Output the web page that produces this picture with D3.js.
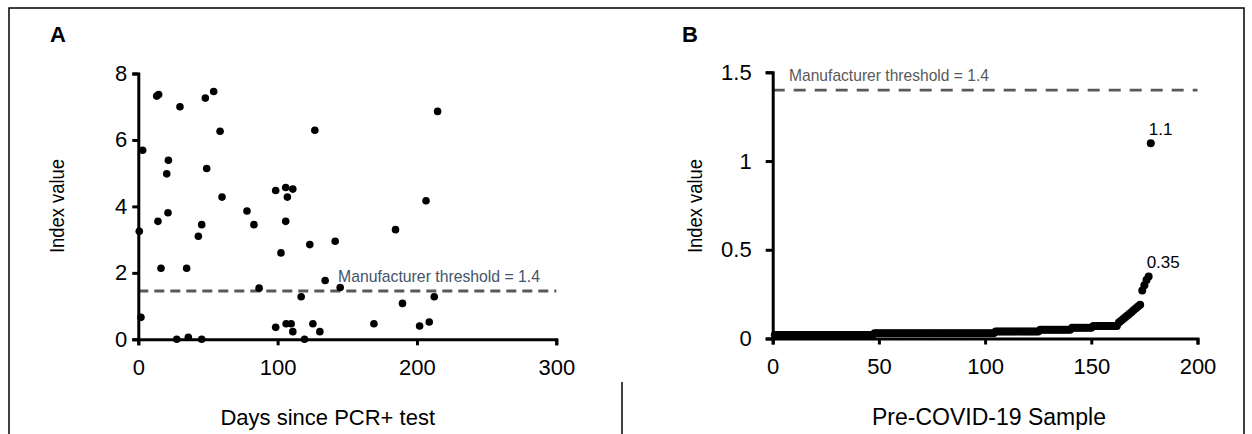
<!DOCTYPE html>
<html>
<head>
<meta charset="utf-8">
<script src="https://cdn.jsdelivr.net/npm/d3@7"></script>
<style>
  html, body { margin: 0; padding: 0; background: #fff; }
  svg { display: block; font-family: "Liberation Sans", Arial, sans-serif; }
</style>
</head>
<body>
<svg id="chart" width="1252" height="434"></svg>
<script>
// ---- Panel A data: days since PCR+ test vs index value ----
const daysA = [0.7, 1.9, 3.1, 13.2, 14.6, 14.1, 16.3, 20.4, 21.6, 21.3,
  27.6, 29.9, 34.7, 35.9, 43.1, 45.5, 45.5, 48.1, 49.1, 54.1,
  58.7, 60.1, 78, 83, 86.7, 98.6, 98.6, 102.4, 105.8, 105.8,
  107, 106.1, 109.7, 110.9, 110.9, 116.9, 119.3, 123.1, 125.3, 126.7,
  130.3, 134.1, 141.3, 144.9, 169.1, 184.6, 189.6, 201.9, 206.5, 208.8,
  212.4, 214.8];
const indexA = [3.25, 0.66, 5.69, 7.32, 7.37, 3.55, 2.14, 4.98, 5.39, 3.81,
  0.0, 7.0, 2.14, 0.06, 3.10, 3.45, 0.0, 7.26, 5.14, 7.46,
  6.26, 4.28, 3.86, 3.45, 1.54, 4.48, 0.36, 2.6, 4.57, 3.55,
  4.28, 0.47, 0.47, 4.52, 0.23, 1.28, 0.0, 2.85, 0.47, 6.29,
  0.23, 1.77, 2.95, 1.56, 0.47, 3.30, 1.08, 0.40, 4.17, 0.52,
  1.28, 6.86];
const thresholdA = 1.45;
const xTicksA = [0, 100, 200, 300];
const yTicksA = [0, 2, 4, 6, 8];

// ---- Panel B data: pre-COVID-19 samples (sorted) ----
const indexB = [
  0.02, 0.02, 0.02, 0.02, 0.02, 0.02, 0.02, 0.02, 0.02, 0.02,
  0.02, 0.02, 0.02, 0.02, 0.02, 0.02, 0.02, 0.02, 0.02, 0.02,
  0.02, 0.02, 0.02, 0.02, 0.02, 0.02, 0.02, 0.02, 0.02, 0.02,
  0.02, 0.02, 0.02, 0.02, 0.02, 0.02, 0.02, 0.02, 0.02, 0.02,
  0.02, 0.02, 0.02, 0.02, 0.02, 0.02, 0.02, 0.03, 0.03, 0.03,
  0.03, 0.03, 0.03, 0.03, 0.03, 0.03, 0.03, 0.03, 0.03, 0.03,
  0.03, 0.03, 0.03, 0.03, 0.03, 0.03, 0.03, 0.03, 0.03, 0.03,
  0.03, 0.03, 0.03, 0.03, 0.03, 0.03, 0.03, 0.03, 0.03, 0.03,
  0.03, 0.03, 0.03, 0.03, 0.03, 0.03, 0.03, 0.03, 0.03, 0.03,
  0.03, 0.03, 0.03, 0.03, 0.03, 0.03, 0.03, 0.03, 0.03, 0.03,
  0.03, 0.03, 0.03, 0.03, 0.04, 0.04, 0.04, 0.04, 0.04, 0.04,
  0.04, 0.04, 0.04, 0.04, 0.04, 0.04, 0.04, 0.04, 0.04, 0.04,
  0.04, 0.04, 0.04, 0.04, 0.04, 0.05, 0.05, 0.05, 0.05, 0.05,
  0.05, 0.05, 0.05, 0.05, 0.05, 0.05, 0.05, 0.05, 0.05, 0.05,
  0.06, 0.06, 0.06, 0.06, 0.06, 0.06, 0.06, 0.06, 0.06, 0.06,
  0.07, 0.07, 0.07, 0.07, 0.07, 0.07, 0.07, 0.07, 0.07, 0.07,
  0.07, 0.07, 0.09, 0.10, 0.11, 0.12, 0.13, 0.14, 0.15, 0.16,
  0.17, 0.18, 0.19, 0.27, 0.30, 0.33, 0.35, 1.1];
const labelledB = ["0.35", "1.1"];
const thresholdB = 1.4;
const xTicksB = [0, 50, 100, 150, 200];
const yTicksB = [0, 0.5, 1, 1.5];

const thresholdText = "Manufacturer threshold = 1.4";

const svg = d3.select("#chart");
const FONT = "'Liberation Sans', Arial, sans-serif";

// outer frame and panel divider
svg.append("path")
  .attr("d", "M9,434 L9,8 L1244,8 L1244,434")
  .attr("fill", "none").attr("stroke", "#000").attr("stroke-width", 1.5);
svg.append("line")
  .attr("x1", 622).attr("x2", 622).attr("y1", 382).attr("y2", 434)
  .attr("stroke", "#000").attr("stroke-width", 1.5);

function styleAxis(g, fs) {
  g.select(".domain").attr("stroke", "#000").attr("stroke-width", 3);
  g.selectAll(".tick line").attr("stroke", "#000").attr("stroke-width", 3);
  g.selectAll(".tick text").attr("fill", "#000")
    .style("font-size", fs + "px")
    .style("font-family", FONT);
}

// ---------- Panel A ----------
const xA = d3.scaleLinear().domain([0, 300]).range([138.3, 556.3]);
const yA = d3.scaleLinear().domain([0, 8]).range([339.3, 73.5]);

const gA = svg.append("g");

gA.append("line")
  .attr("x1", xA(0)).attr("x2", xA(300))
  .attr("y1", yA(thresholdA)).attr("y2", yA(thresholdA))
  .attr("stroke", "#595959").attr("stroke-width", 3)
  .attr("stroke-dasharray", "10,6");

gA.append("text")
  .attr("x", 338).attr("y", yA(thresholdA) - 9)
  .attr("fill", "#44546a").style("font-size", "17px")
  .attr("textLength", 202).attr("lengthAdjust", "spacingAndGlyphs")
  .text(thresholdText);

gA.selectAll("circle").data(daysA).join("circle")
  .attr("cx", (d) => xA(d))
  .attr("cy", (d, i) => yA(indexA[i]))
  .attr("r", 3.8).attr("fill", "#000");

const axXA = gA.append("g").attr("transform", `translate(0,${yA(0)})`)
  .call(d3.axisBottom(xA).tickValues(xTicksA).tickSize(6).tickSizeOuter(6).tickPadding(14).tickFormat(d3.format("d")));
styleAxis(axXA, 22);
const axYA = gA.append("g").attr("transform", `translate(${xA(0)},0)`)
  .call(d3.axisLeft(yA).tickValues(yTicksA).tickSize(6).tickSizeOuter(6).tickPadding(5).tickFormat(d3.format("d")));
styleAxis(axYA, 22);

gA.append("text").attr("x", 435).attr("y", 425).attr("text-anchor", "end")
  .style("font-size", "22px").text("Days since PCR+ test");
gA.append("text").attr("transform", "translate(64,206) rotate(-90)")
  .attr("text-anchor", "middle").style("font-size", "21px")
  .attr("textLength", 94).attr("lengthAdjust", "spacingAndGlyphs")
  .text("Index value");
gA.append("text").attr("x", 50).attr("y", 42)
  .style("font-size", "22px").style("font-weight", "bold").text("A");

// ---------- Panel B ----------
const xB = d3.scaleLinear().domain([0, 200]).range([772.7, 1197.5]);
const yB = d3.scaleLinear().domain([0, 1.5]).range([338.5, 72.3]);

const gB = svg.append("g");

gB.append("line")
  .attr("x1", xB(0)).attr("x2", xB(200))
  .attr("y1", yB(thresholdB)).attr("y2", yB(thresholdB))
  .attr("stroke", "#595959").attr("stroke-width", 2.7)
  .attr("stroke-dasharray", "12,9");

gB.append("text")
  .attr("x", 789).attr("y", yB(thresholdB) - 9.5)
  .attr("fill", "#595959").style("font-size", "17px")
  .attr("textLength", 200).attr("lengthAdjust", "spacingAndGlyphs")
  .text(thresholdText);

gB.selectAll("circle").data(indexB).join("circle")
  .attr("cx", (d, i) => xB(i + 1))
  .attr("cy", (d) => yB(d))
  .attr("r", 4).attr("fill", "#000");

gB.selectAll("text.ann").data(indexB.map((d, i) => ({ v: d, i: i }))
    .filter((p) => labelledB.includes(String(p.v))))
  .join("text").attr("class", "ann")
  .attr("x", (p) => xB(p.i + 1) - 2)
  .attr("y", (p) => yB(p.v) - 8)
  .style("font-size", "17px").text((p) => String(p.v));

const axXB = gB.append("g").attr("transform", `translate(0,${yB(0)})`)
  .call(d3.axisBottom(xB).tickValues(xTicksB).tickSize(6).tickSizeOuter(6).tickPadding(14).tickFormat(d3.format("d")));
styleAxis(axXB, 22);
const axYB = gB.append("g").attr("transform", `translate(${xB(0)},0)`)
  .call(d3.axisLeft(yB).tickValues(yTicksB).tickSize(7).tickSizeOuter(7).tickPadding(14).tickFormat((d) => String(d)));
styleAxis(axYB, 22);

gB.append("text").attr("x", 989).attr("y", 425).attr("text-anchor", "middle")
  .style("font-size", "23px").text("Pre-COVID-19 Sample");
gB.append("text").attr("transform", "translate(702,206) rotate(-90)")
  .attr("text-anchor", "middle").style("font-size", "21px")
  .attr("textLength", 94).attr("lengthAdjust", "spacingAndGlyphs")
  .text("Index value");
gB.append("text").attr("x", 682).attr("y", 42)
  .style("font-size", "22px").style("font-weight", "bold").text("B");
</script>
</body>
</html>
